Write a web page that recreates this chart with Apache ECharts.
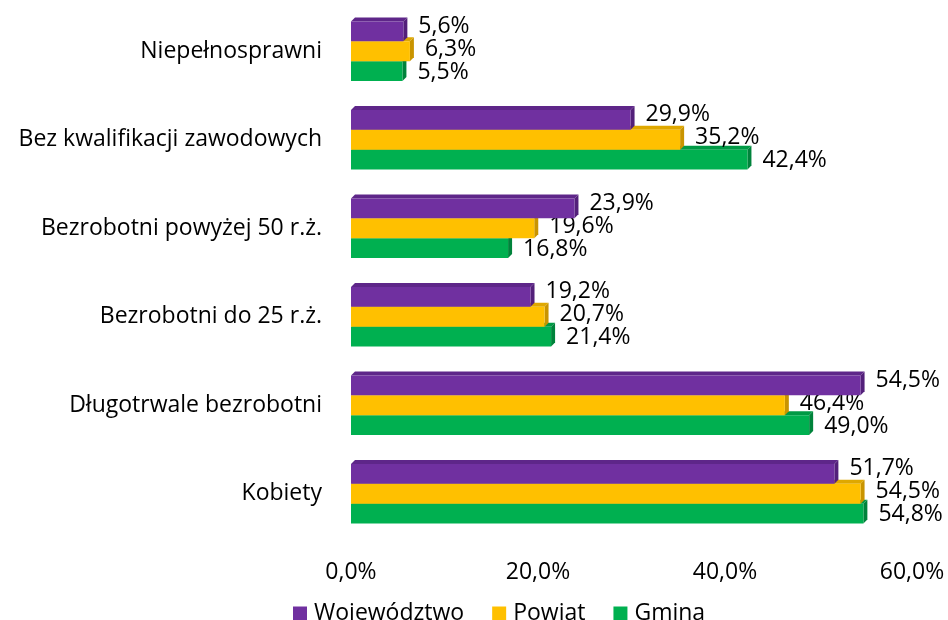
<!DOCTYPE html>
<html>
<head>
<meta charset="utf-8">
<script src="https://cdn.jsdelivr.net/npm/echarts@6/dist/echarts.min.js"></script>
<style>
html, body { margin: 0; padding: 0; background: #fff; }
#chart { width: 948px; height: 620px; }
</style>
</head>
<body>
<div id="chart"></div>
<script>
var categories = ["Niepełnosprawni", "Bez kwalifikacji zawodowych", "Bezrobotni powyżej 50 r.ż.", "Bezrobotni do 25 r.ż.", "Długotrwale bezrobotni", "Kobiety"];
var seriesNames = ["Województwo", "Powiat", "Gmina"];
var wojewodztwo = [5.6, 29.9, 23.9, 19.2, 54.5, 51.7];
var powiat = [6.3, 35.2, 19.6, 20.7, 46.4, 54.5];
var gmina = [5.5, 42.4, 16.8, 21.4, 49.0, 54.8];
var xTicks = [0, 20, 40, 60];

var colors = ["#7030A0", "#FFC000", "#00B050"];
var darkColors = ["#53207a", "#c99400", "#00833b"];
var topColors = ["#5e2689", "#dfa800", "#009a45"];
var labelShift = [-5, -2, 1];
var FONT = "Open Sans";
var FS = 23;

function pct(v) {
	return v.toFixed(1).replace(".", ",") + "%";
}

function makeRender(idx) {
	return function(params, api) {
		var cat = api.value(1);
		var val = api.value(0);
		var p0 = api.coord([0, cat]);
		var p1 = api.coord([val, cat]);
		var band = api.size([0, 1])[1];
		var h = band * 0.225;
		var d = 4;
		var x0 = p0[0], x1 = p1[0];
		var y0 = p0[1] - 1.5 * h + idx * h;
		return {
			type: "group",
			children: [{
				type: "polygon",
				shape: { points: [[x0, y0], [x0 + d, y0 - d], [x1 + d, y0 - d], [x1, y0]] },
				style: { fill: topColors[idx] }
			}, {
				type: "polygon",
				shape: { points: [[x1, y0], [x1 + d, y0 - d], [x1 + d, y0 + h - d], [x1, y0 + h]] },
				style: { fill: darkColors[idx] }
			}, {
				type: "rect",
				shape: { x: x0, y: y0, width: x1 - x0, height: h },
				style: { fill: colors[idx] }
			}, {
				type: "text",
				x: x1 + d + 11,
				y: y0 + h / 2 + labelShift[idx],
				style: {
					text: pct(val),
					fill: "#000",
					fontSize: FS,
					fontFamily: FONT,
					verticalAlign: "middle",
					align: "left"
				}
			}]
		};
	};
}

var allData = [wojewodztwo, powiat, gmina];
var series = [];
for (var s = 0; s < 3; s++) {
	series.push({
		name: seriesNames[s],
		type: "custom",
		renderItem: makeRender(s),
		itemStyle: { color: colors[s] },
		encode: { x: 0, y: 1 },
		z: 10 - s,
		data: allData[s].map(function(v, i) { return [v, i]; })
	});
}

var chart = echarts.init(document.getElementById("chart"));
chart.setOption({
	animation: false,
	textStyle: { fontFamily: FONT },
	grid: { left: 351, right: 36, top: 7, bottom: 82 },
	legend: {
		data: seriesNames,
		left: 288,
		top: 597,
		icon: "rect",
		itemWidth: 14,
		itemHeight: 14,
		itemGap: 28,
		textStyle: { fontSize: FS, color: "#000", fontFamily: FONT, padding: [0, 0, 0, 2] }
	},
	xAxis: {
		type: "value",
		min: xTicks[0],
		max: xTicks[xTicks.length - 1],
		interval: 20,
		axisLine: { show: false },
		axisTick: { show: false },
		splitLine: { show: false },
		axisLabel: {
			fontSize: FS,
			color: "#000",
			margin: 23,
			formatter: function(v) { return pct(v); }
		}
	},
	yAxis: {
		type: "category",
		data: categories,
		inverse: true,
		axisLine: { show: false },
		axisTick: { show: false },
		axisLabel: { fontSize: FS, color: "#000", margin: 29 }
	},
	series: series
});
</script>
</body>
</html>
